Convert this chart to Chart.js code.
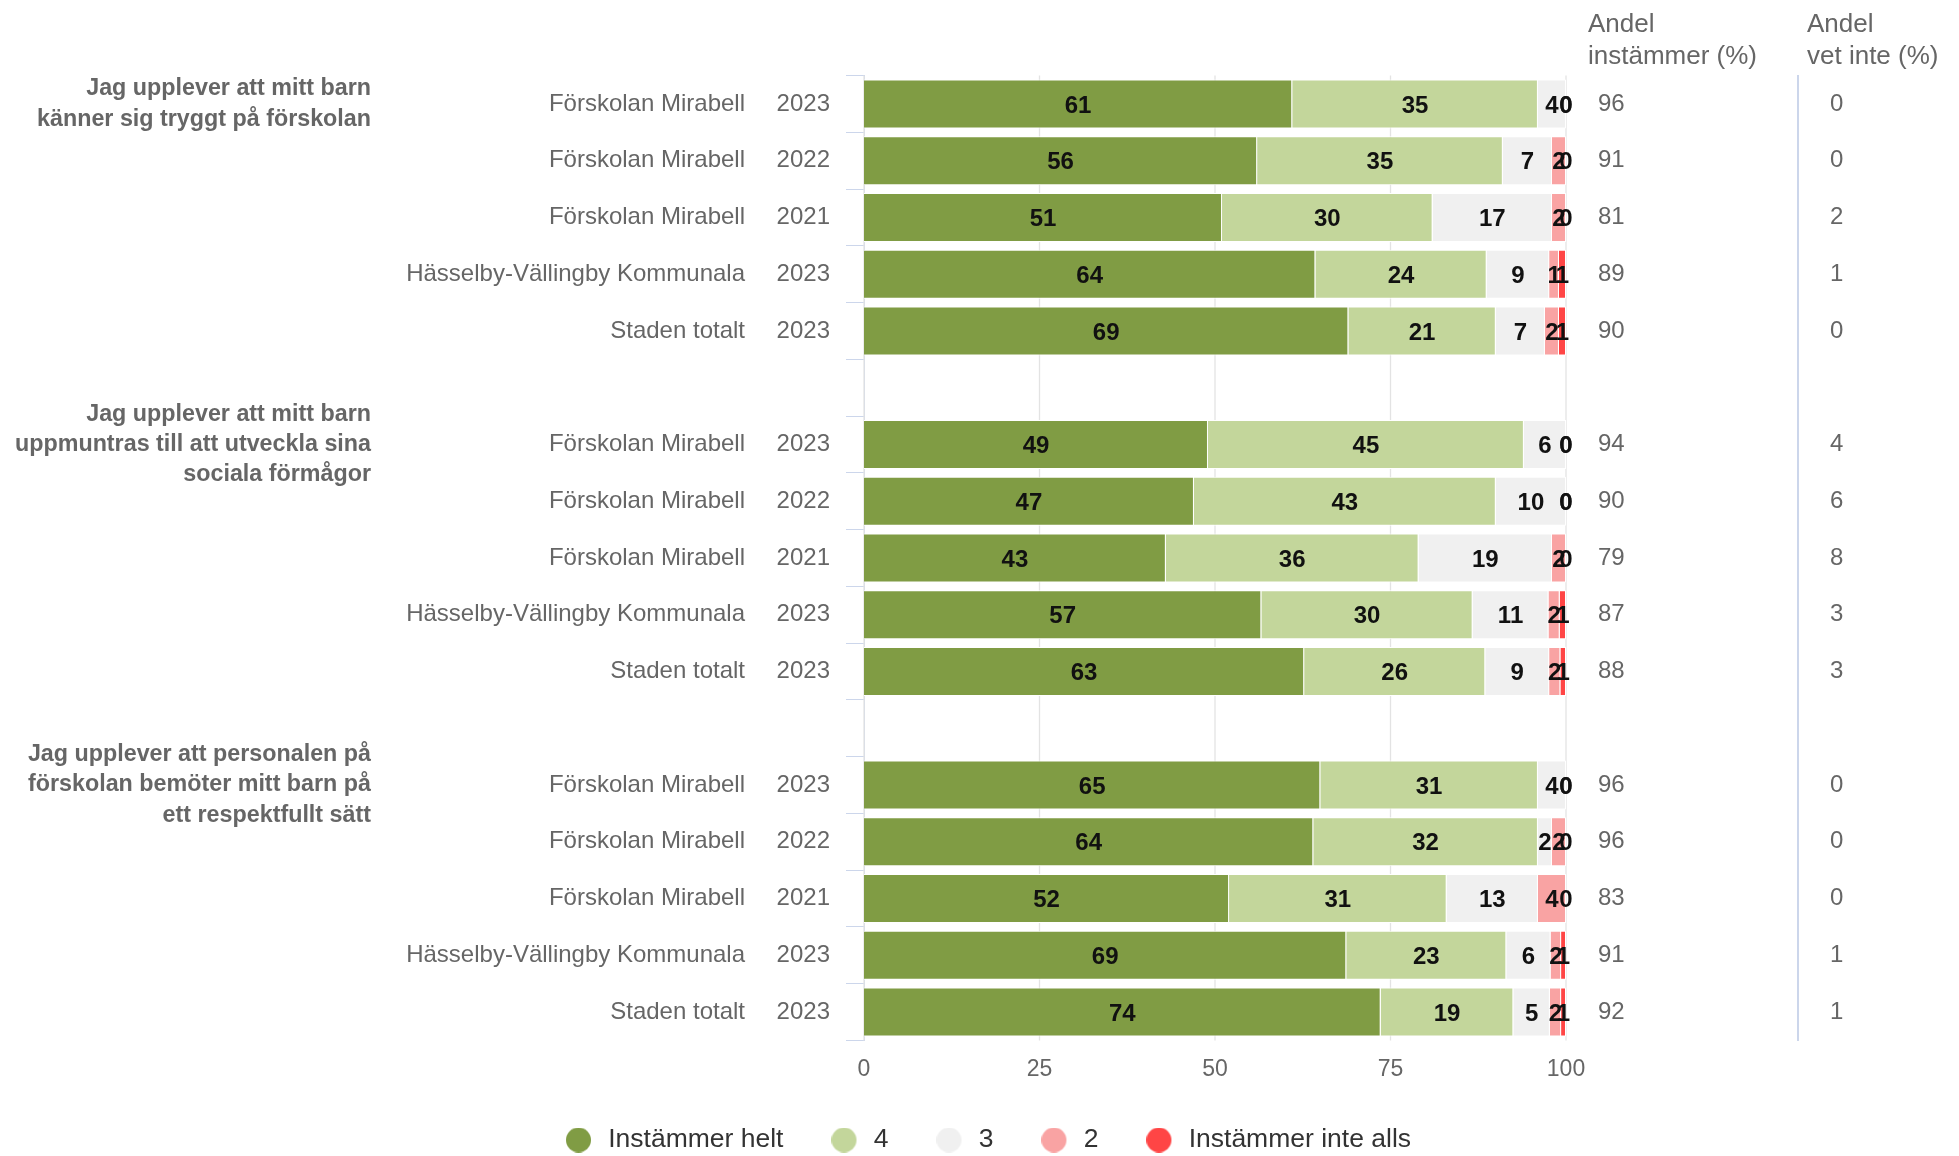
<!DOCTYPE html>
<html>
<head>
<meta charset="utf-8">
<script src="https://cdn.jsdelivr.net/npm/chart.js@4/dist/chart.umd.min.js"></script>
<style>
html,body{margin:0;padding:0;background:#fff;}
canvas{display:block;}
</style>
</head>
<body>
<canvas id="c" width="1959" height="1156"></canvas>
<script>
// ---- data ----
const questions = [
  ['Jag upplever att mitt barn', 'känner sig tryggt på förskolan'],
  ['Jag upplever att mitt barn', 'uppmuntras till att utveckla sina', 'sociala förmågor'],
  ['Jag upplever att personalen på', 'förskolan bemöter mitt barn på', 'ett respektfullt sätt']
];
const questionRow = [0, 6, 12];
const units = [
  'Förskolan Mirabell', 'Förskolan Mirabell', 'Förskolan Mirabell', 'Hässelby-Vällingby Kommunala', 'Staden totalt', '',
  'Förskolan Mirabell', 'Förskolan Mirabell', 'Förskolan Mirabell', 'Hässelby-Vällingby Kommunala', 'Staden totalt', '',
  'Förskolan Mirabell', 'Förskolan Mirabell', 'Förskolan Mirabell', 'Hässelby-Vällingby Kommunala', 'Staden totalt'
];
const years = [
  '2023', '2022', '2021', '2023', '2023', '',
  '2023', '2022', '2021', '2023', '2023', '',
  '2023', '2022', '2021', '2023', '2023'
];
const seriesNames = ['Instämmer helt', '4', '3', '2', 'Instämmer inte alls'];
const instammerHelt = [61, 56, 51, 64.3, 69, null, 49, 47, 43, 56.6, 62.7, null, 65, 64, 52, 68.7, 73.6];
const svar4 = [35, 35, 30, 24.4, 21, null, 45, 43, 36, 30.1, 25.8, null, 31, 32, 31, 22.8, 18.9];
const svar3 = [4, 7, 17, 8.9, 7, null, 6, 10, 19, 10.8, 9.1, null, 4, 2, 13, 6.3, 5.2];
const svar2 = [0, 2, 2, 1.4, 2, null, 0, 0, 2, 1.6, 1.6, null, 0, 2, 4, 1.5, 1.6];
const instammerInteAlls = [0, 0, 0, 1.0, 1, null, 0, 0, 0, 0.9, 0.8, null, 0, 0, 0, 0.7, 0.7];
const andelInstammer = ['96', '91', '81', '89', '90', '', '94', '90', '79', '87', '88', '', '96', '96', '83', '91', '92'];
const andelVetInte = ['0', '0', '2', '1', '0', '', '4', '6', '8', '3', '3', '', '0', '0', '0', '1', '1'];
const headerInstammer = ['Andel', 'instämmer (%)'];
const headerVetInte = ['Andel', 'vet inte (%)'];
const xTicks = [0, 25, 50, 75, 100];
const seriesColors = ['#809c44', '#c3d69b', '#f0f0f0', '#f9a3a3', '#ff4545'];

// ---- build ----
const FONT = "'Liberation Sans', Arial, Helvetica, sans-serif";
Chart.defaults.font.family = FONT;

const titleLabels = years.map((_, i) => {
  const q = questionRow.indexOf(i);
  return q >= 0 ? questions[q] : '';
});
const seriesData = [instammerHelt, svar4, svar3, svar2, instammerInteAlls];

const datasets = seriesNames.map((name, i) => ({
  label: name,
  data: seriesData[i],
  backgroundColor: seriesColors[i],
  borderColor: '#ffffff',
  borderWidth: 1,
  barPercentage: 0.86,
  categoryPercentage: 1.0
}));

// legend dots: 25px circle drawn at the left of a 29px wide image
const DOT_W = 29, DOT_D = 25;
const legendDots = seriesColors.map(c => {
  const cv = document.createElement('canvas');
  cv.width = DOT_W; cv.height = DOT_D;
  const g = cv.getContext('2d');
  g.fillStyle = c;
  g.beginPath();
  g.arc(DOT_D / 2, DOT_D / 2, DOT_D / 2, 0, Math.PI * 2);
  g.fill();
  return cv;
});

const fixedWidth = w => (scale) => { scale.width = w; };

const labelPlugin = {
  id: 'barLabels',
  beforeDatasetsDraw(chart) {
    const ctx = chart.ctx, xs = chart.scales.x, a = chart.chartArea;
    ctx.save();
    ctx.strokeStyle = '#e3e3e3';
    ctx.lineWidth = 1.3;
    xTicks.forEach(v => {
      const px = xs.getPixelForValue(v);
      ctx.beginPath();
      ctx.moveTo(px, a.top);
      ctx.lineTo(px, a.bottom);
      ctx.stroke();
    });
    ctx.restore();
  },
  afterDatasetsDraw(chart) {
    const ctx = chart.ctx;
    ctx.save();
    ctx.font = 'bold 24px ' + FONT;
    ctx.fillStyle = '#111';
    ctx.textAlign = 'center';
    ctx.textBaseline = 'middle';
    chart.data.datasets.forEach((ds, di) => {
      const meta = chart.getDatasetMeta(di);
      meta.data.forEach((el, i) => {
        const v = ds.data[i];
        if (v === null || v === undefined) return;
        const p = el.getProps(['x', 'y', 'base'], true);
        ctx.fillText(String(Math.round(v)), (p.x + p.base) / 2, p.y + 2);
      });
    });
    ctx.restore();
  },
  afterDraw(chart) {
    const ctx = chart.ctx;
    const s1 = chart.scales.yR1, s2 = chart.scales.yR2;
    ctx.save();
    ctx.font = '26px ' + FONT;
    ctx.fillStyle = '#666';
    ctx.textAlign = 'left';
    ctx.textBaseline = 'alphabetic';
    headerInstammer.forEach((t, i) => ctx.fillText(t, s1.left + 22, 32 + i * 32));
    headerVetInte.forEach((t, i) => ctx.fillText(t, s2.left + 9, 32 + i * 32));
    ctx.restore();
  }
};

new Chart(document.getElementById('c'), {
  type: 'bar',
  data: { labels: years, datasets },
  options: {
    indexAxis: 'y',
    responsive: false,
    devicePixelRatio: 1,
    animation: false,
    layout: { padding: { top: 75.6, right: -18, left: 0, bottom: -7.25 } },
    plugins: {
      tooltip: { enabled: false },
      legend: {
        position: 'bottom',
        labels: {
          usePointStyle: true,
          pointStyleWidth: DOT_W,
          padding: 48,
          color: '#333',
          font: { size: 26.5 },
          generateLabels(chart) {
            const items = Chart.defaults.plugins.legend.labels.generateLabels(chart);
            items.forEach((it) => { it.pointStyle = legendDots[it.datasetIndex]; });
            return items;
          }
        }
      }
    },
    scales: {
      x: {
        stacked: true,
        min: 0, max: 100,
        afterBuildTicks: (scale) => { scale.ticks = xTicks.map(v => ({ value: v })); },
        afterFit: (scale) => { scale.height = 38.35; },
        grid: { display: false, drawTicks: false, tickLength: 0 },
        border: { display: false },
        ticks: { padding: 15, color: '#666', font: { size: 23 } }
      },
      y: {
        stacked: true,
        position: 'left',
        offset: true,
        afterFit: fixedWidth(104),
        grid: { offset: true, drawOnChartArea: false, drawTicks: true, tickLength: 18, color: '#ccd6eb', lineWidth: 1 },
        border: { display: true, color: '#ccd6eb', width: 1 },
        ticks: { padding: 16, color: '#666', font: { size: 24 }, autoSkip: false }
      },
      yN: {
        type: 'category',
        position: 'left',
        labels: units,
        offset: true,
        afterFit: fixedWidth(370),
        grid: { display: false, drawTicks: false, tickLength: 0 },
        border: { display: false },
        ticks: { padding: 15, color: '#666', font: { size: 24 }, autoSkip: false }
      },
      yG: {
        type: 'category',
        position: 'left',
        labels: titleLabels,
        offset: true,
        afterFit: fixedWidth(390),
        grid: { display: false, drawTicks: false, tickLength: 0 },
        border: { display: false },
        ticks: { padding: 19, color: '#666', font: { size: 23.3, weight: 'bold', lineHeight: 1.3 }, autoSkip: false }
      },
      yR1: {
        type: 'category',
        position: 'right',
        labels: andelInstammer,
        offset: true,
        afterFit: fixedWidth(232),
        grid: { display: true, drawOnChartArea: false, drawTicks: false, color: 'rgba(0,0,0,0)' },
        border: { display: false },
        ticks: { padding: 32, color: '#666', font: { size: 24 }, autoSkip: false }
      },
      yR2: {
        type: 'category',
        position: 'right',
        labels: andelVetInte,
        offset: true,
        afterFit: fixedWidth(179),
        grid: { display: true, drawOnChartArea: false, drawTicks: false, color: 'rgba(0,0,0,0)' },
        border: { display: true, color: '#ccd6eb', width: 2 },
        ticks: { padding: 32, color: '#666', font: { size: 24 }, autoSkip: false }
      }
    }
  },
  plugins: [labelPlugin]
});
</script>
</body>
</html>
